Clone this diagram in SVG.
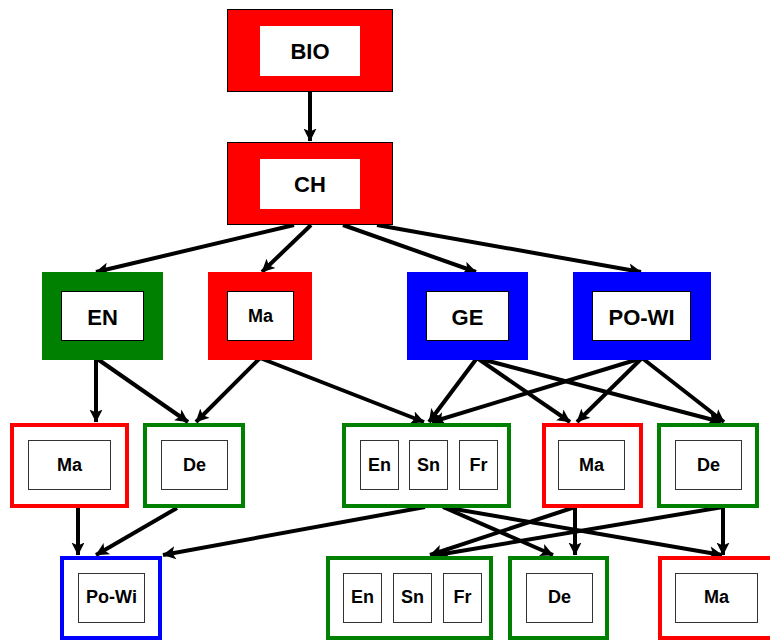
<svg xmlns="http://www.w3.org/2000/svg" width="770" height="642" viewBox="0 0 770 642">
<style>
text{font-family:"Liberation Sans",Arial,Helvetica,sans-serif;font-weight:bold;fill:#000;text-anchor:middle}
.big{font-size:22px}
.sm{font-size:18px}
.inner{fill:#fff;stroke:#000;stroke-width:1}
.inner2{fill:#fff;stroke:#333;stroke-width:1}
.wh{fill:#fff;stroke:none}
.red{fill:#ff0000}
.grn{fill:#008000}
.blu{fill:#0000ff}
.ored{fill:#fff;stroke:#ff0000;stroke-width:4}
.ogrn{fill:#fff;stroke:#008000;stroke-width:4}
.oblu{fill:#fff;stroke:#0000ff;stroke-width:4}
.e{stroke:#000;stroke-width:4;fill:none;marker-end:url(#arr)}
</style>
<defs>
<marker id="arr" markerUnits="userSpaceOnUse" markerWidth="14" markerHeight="14" refX="12.5" refY="7" orient="auto" viewBox="0 0 14 14">
<path d="M0,0.5 L13,7 L0,13.5 L3,7 z" fill="#000"/>
</marker>
</defs>
<g id="connectors">
<line class="e" x1="310" y1="92" x2="310" y2="141"/>
<line class="e" x1="294" y1="225" x2="96" y2="272"/>
<line class="e" x1="311" y1="225" x2="262" y2="272"/>
<line class="e" x1="343" y1="225" x2="476" y2="272"/>
<line class="e" x1="377" y1="225" x2="641" y2="272"/>
<line class="e" x1="96" y1="358" x2="96" y2="422"/>
<line class="e" x1="96" y1="358" x2="188" y2="422"/>
<line class="e" x1="260" y1="358" x2="196" y2="422"/>
<line class="e" x1="260" y1="358" x2="424" y2="422"/>
<line class="e" x1="477" y1="358" x2="429" y2="422"/>
<line class="e" x1="477" y1="358" x2="570" y2="422"/>
<line class="e" x1="477" y1="358" x2="721" y2="422"/>
<line class="e" x1="642" y1="358" x2="432" y2="422"/>
<line class="e" x1="642" y1="358" x2="577" y2="422"/>
<line class="e" x1="642" y1="358" x2="724" y2="422"/>
<line class="e" x1="78" y1="508" x2="78" y2="555"/>
<line class="e" x1="177" y1="508" x2="96" y2="555"/>
<line class="e" x1="425" y1="507" x2="163" y2="555"/>
<line class="e" x1="443" y1="507" x2="553" y2="555"/>
<line class="e" x1="443" y1="507" x2="722" y2="555"/>
<line class="e" x1="575" y1="507" x2="430" y2="555"/>
<line class="e" x1="575" y1="507" x2="575" y2="555"/>
<line class="e" x1="723" y1="507" x2="437" y2="555"/>
<line class="e" x1="723" y1="507" x2="723" y2="555"/>
</g>
<g id="bio">
<rect class="red" x="227.5" y="9.5" width="165" height="82" stroke="#000" stroke-width="1"/>
<rect class="wh" x="260" y="26" width="100" height="50"/>
<text class="big" x="310" y="59">BIO</text>
</g>
<g id="ch">
<rect class="red" x="227.5" y="142.5" width="165" height="82" stroke="#000" stroke-width="1"/>
<rect class="wh" x="260" y="159" width="100" height="50"/>
<text class="big" x="310" y="192">CH</text>
</g>
<g id="en">
<rect class="grn" x="42" y="272" width="121" height="88"/>
<rect class="inner" x="61.5" y="291.5" width="82" height="49"/>
<text class="big" x="102.5" y="325">EN</text>
</g>
<g id="ma">
<rect class="red" x="208" y="272" width="104" height="88"/>
<rect class="inner" x="227.5" y="291.5" width="66" height="49"/>
<text class="sm" x="260.5" y="322">Ma</text>
</g>
<g id="ge">
<rect class="blu" x="407" y="272" width="121" height="88"/>
<rect class="inner" x="426.5" y="291.5" width="82" height="49"/>
<text class="big" x="467.5" y="325">GE</text>
</g>
<g id="powi">
<rect class="blu" x="573" y="272" width="138" height="88"/>
<rect class="inner" x="592.5" y="291.5" width="98" height="49"/>
<text class="big" x="641.5" y="325">PO-WI</text>
</g>
<g id="ma1">
<rect class="ored" x="12" y="425" width="115" height="81"/>
<rect class="inner2" x="28.5" y="440.5" width="82" height="49"/>
<text class="sm" x="69.5" y="471">Ma</text>
</g>
<g id="de1">
<rect class="ogrn" x="145" y="425" width="98" height="81"/>
<rect class="inner2" x="161.5" y="440.5" width="66" height="49"/>
<text class="sm" x="194.5" y="471">De</text>
</g>
<g id="group1">
<rect class="ogrn" x="344" y="425" width="165" height="81"/>
<rect class="inner2" x="360.5" y="440.5" width="38" height="49"/>
<text class="sm" x="379.5" y="471">En</text>
<rect class="inner2" x="409.5" y="440.5" width="38" height="49"/>
<text class="sm" x="428.5" y="471">Sn</text>
<rect class="inner2" x="459.5" y="440.5" width="38" height="49"/>
<text class="sm" x="478.5" y="471">Fr</text>
</g>
<g id="ma2">
<rect class="ored" x="544" y="425" width="97" height="81"/>
<rect class="inner2" x="558.5" y="440.5" width="66" height="49"/>
<text class="sm" x="591.5" y="471">Ma</text>
</g>
<g id="de2">
<rect class="ogrn" x="659" y="425" width="98" height="81"/>
<rect class="inner2" x="675.5" y="440.5" width="66" height="49"/>
<text class="sm" x="708.5" y="471">De</text>
</g>
<g id="powi2">
<rect class="oblu" x="62" y="558" width="98" height="80"/>
<rect class="inner2" x="78.5" y="573.5" width="66" height="49"/>
<text class="sm" x="111.5" y="603">Po-Wi</text>
</g>
<g id="group2">
<rect class="ogrn" x="328" y="558" width="163" height="80"/>
<rect class="inner2" x="343.5" y="573.5" width="38" height="49"/>
<text class="sm" x="362.5" y="603">En</text>
<rect class="inner2" x="393.5" y="573.5" width="38" height="49"/>
<text class="sm" x="412.5" y="603">Sn</text>
<rect class="inner2" x="443.5" y="573.5" width="38" height="49"/>
<text class="sm" x="462.5" y="603">Fr</text>
</g>
<g id="de3">
<rect class="ogrn" x="510" y="558" width="97" height="80"/>
<rect class="inner2" x="526.5" y="573.5" width="66" height="49"/>
<text class="sm" x="559.5" y="603">De</text>
</g>
<g id="ma4">
<rect class="ored" x="660" y="558" width="115" height="80"/>
<rect class="inner2" x="675.5" y="573.5" width="82" height="49"/>
<text class="sm" x="716.5" y="603">Ma</text>
</g>
</svg>
